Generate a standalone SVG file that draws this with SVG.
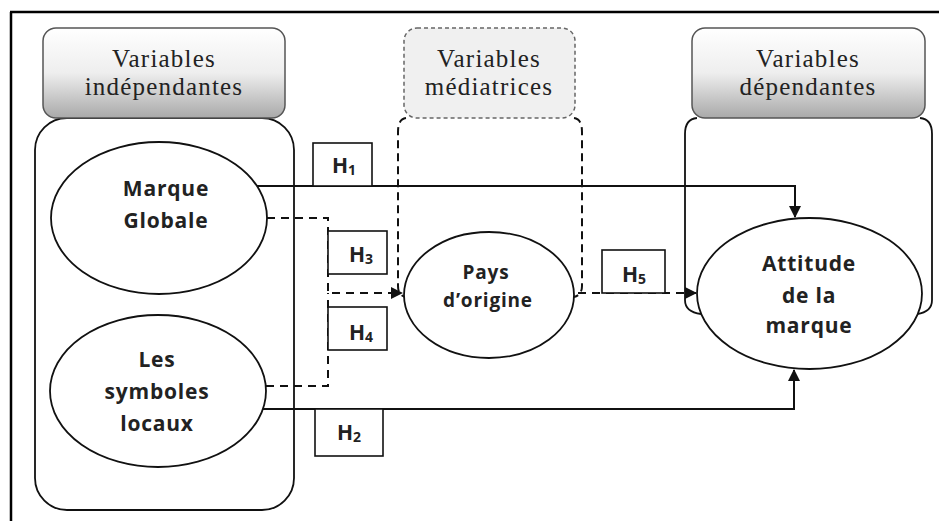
<svg xmlns="http://www.w3.org/2000/svg" width="939" height="521" viewBox="0 0 939 521">
<style>
.frame{fill:none;stroke:#000;stroke-width:2.5}
.cont{fill:none;stroke:#111;stroke-width:1.8}
.contd{fill:none;stroke:#111;stroke-width:2;stroke-dasharray:8 5}
.hdr{fill:url(#g);stroke:#555;stroke-width:1.5}
.hdrd{fill:#f0f0f0;stroke:#666;stroke-width:1.5;stroke-dasharray:4 3}
.htxt{font-family:"Liberation Serif",serif;font-size:25px;fill:#222;text-anchor:middle;letter-spacing:1.2px}
.node{fill:#fff;stroke:#111;stroke-width:1.8}
.ntxt{font-family:"Open Sans","Liberation Sans",sans-serif;font-weight:bold;font-size:21px;fill:#222;text-anchor:middle;letter-spacing:0.8px}
.ptxt{font-family:"Open Sans","Liberation Sans",sans-serif;font-weight:bold;font-size:19px;fill:#222;text-anchor:middle;letter-spacing:0.8px}
.ln{fill:none;stroke:#111;stroke-width:2}
.dl{fill:none;stroke:#111;stroke-width:2;stroke-dasharray:8 6}
.hbox{fill:#fff;stroke:#111;stroke-width:1.6}
.hl{font-family:"Open Sans","Liberation Sans",sans-serif;font-weight:bold;font-size:21px;fill:#222;text-anchor:middle}
.sub{font-size:14px}
</style>
<defs>
<linearGradient id="g" x1="0" y1="0" x2="0" y2="1">
<stop offset="0" stop-color="#ffffff"/>
<stop offset="0.5" stop-color="#eeeeee"/>
<stop offset="1" stop-color="#a9a9a9"/>
</linearGradient>
<marker id="ah" markerWidth="12" markerHeight="12" refX="11" refY="6" orient="auto" markerUnits="userSpaceOnUse">
<path d="M0,0 L12,6 L0,12 Z" fill="#111"/>
</marker>
</defs>
<rect width="939" height="521" fill="#fff"/>
<path class="frame" d="M10,12 L939,12 M11,12 L11,521"/>

<g id="independantes">
<rect class="cont" x="35" y="118" width="259" height="392" rx="32" ry="32"/>
<rect class="hdr" x="43" y="28" width="242" height="90" rx="13" ry="13"/>
<text class="htxt" x="164" y="67">Variables</text>
<text class="htxt" x="164" y="95">indépendantes</text>
</g>

<g id="mediatrices">
<path class="contd" d="M406,118 Q398,119 398,132 L398,286 Q398,295 405,297"/>
<path class="contd" d="M574,118 Q582,119 582,132 L582,286 Q582,295 574,297"/>
<rect class="hdrd" x="404" y="28" width="171" height="90" rx="13" ry="13"/>
<text class="htxt" x="489" y="67">Variables</text>
<text class="htxt" x="489" y="95">médiatrices</text>
</g>

<g id="dependantes">
<path class="cont" d="M697,118 Q685,119 685,134 L685,300 Q685,312 701,314"/>
<path class="cont" d="M920,118 Q932,119 932,134 L932,300 Q932,312 917,314"/>
<rect class="hdr" x="692" y="28" width="233" height="90" rx="13" ry="13"/>
<text class="htxt" x="808" y="67">Variables</text>
<text class="htxt" x="808" y="95">dépendantes</text>
</g>

<g id="connectors">
<path class="ln" d="M257,186 L795,186 L795,217" marker-end="url(#ah)"/>
<path class="dl" d="M267,218 L328,218 L328,293 L402,293" marker-end="url(#ah)"/>
<path class="dl" d="M266,386 L328,386 L328,293"/>
<path class="ln" d="M263,409 L794,409 L794,370" marker-end="url(#ah)"/>
<path class="dl" d="M578,293 L696,293" marker-end="url(#ah)"/>
</g>

<g id="marque-globale">
<ellipse class="node" cx="159" cy="218" rx="108" ry="76"/>
<text class="ntxt" x="166" y="196">Marque</text>
<text class="ntxt" x="166" y="228">Globale</text>
</g>

<g id="symboles-locaux">
<ellipse class="node" cx="158" cy="391" rx="108" ry="76"/>
<text class="ntxt" x="157" y="367">Les</text>
<text class="ntxt" x="157" y="399">symboles</text>
<text class="ntxt" x="157" y="431">locaux</text>
</g>

<g id="pays-origine">
<ellipse class="node" cx="489" cy="295" rx="85" ry="63"/>
<text class="ptxt" x="486" y="279">Pays</text>
<text class="ptxt" x="488" y="307">d’origine</text>
</g>

<g id="attitude">
<ellipse class="node" cx="809.5" cy="293.5" rx="112.5" ry="75.5"/>
<text class="ntxt" x="809" y="271">Attitude</text>
<text class="ntxt" x="809" y="303">de la</text>
<text class="ntxt" x="809" y="333">marque</text>
</g>

<g id="h1">
<rect class="hbox" x="313" y="143" width="59" height="43"/>
<text class="hl" x="344" y="173">H<tspan class="sub" dy="2">1</tspan></text>
</g>
<g id="h3">
<rect class="hbox" x="328" y="231" width="59" height="43"/>
<text class="hl" x="361" y="262">H<tspan class="sub" dy="2">3</tspan></text>
</g>
<g id="h4">
<rect class="hbox" x="328" y="307" width="59" height="43"/>
<text class="hl" x="361" y="340">H<tspan class="sub" dy="2">4</tspan></text>
</g>
<g id="h2">
<rect class="hbox" x="315" y="409" width="68" height="47"/>
<text class="hl" x="349" y="440">H<tspan class="sub" dy="2">2</tspan></text>
</g>
<g id="h5">
<rect class="hbox" x="602" y="250" width="63" height="43"/>
<text class="hl" x="634" y="282">H<tspan class="sub" dy="2">5</tspan></text>
</g>
</svg>
